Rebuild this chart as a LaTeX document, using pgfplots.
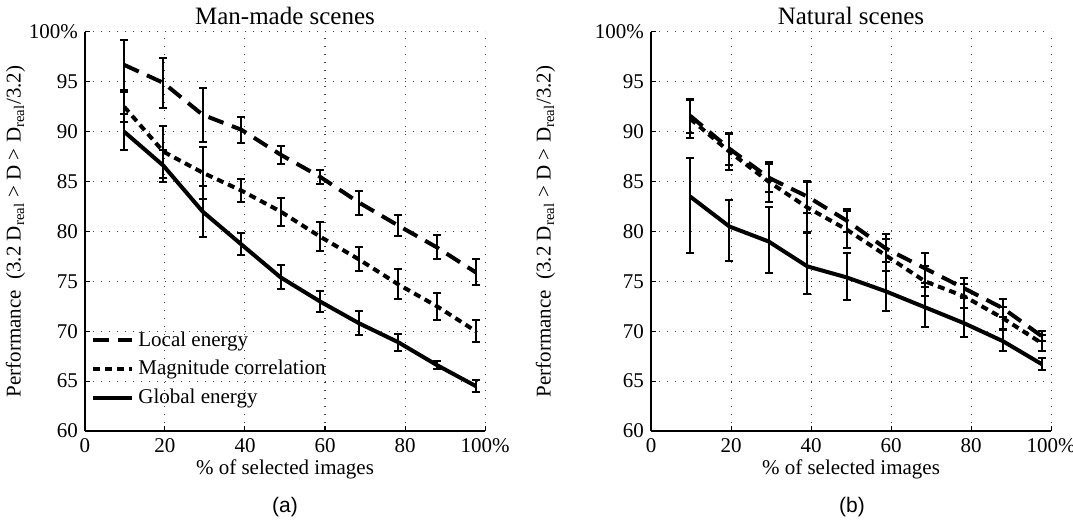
\documentclass[border=0pt]{standalone}
\usepackage{fontspec}
\setmainfont{Liberation Serif}
\newfontfamily\sansf{Liberation Sans}
\usepackage{pgfplots}
\usepackage{pgfplotstable}
\pgfplotsset{compat=1.18}

\pgfplotstableread{
x y e
9.8 96.7 2.5
19.6 94.9 2.5
29.4 91.7 2.7
39.1 90.2 1.3
48.9 87.7 0.9
58.7 85.5 0.7
68.5 82.9 1.2
78.3 80.6 1.1
88.0 78.4 1.2
97.7 75.9 1.3
}\LocalA
\pgfplotstableread{
x y e
9.8 92.5 1.5
19.6 88.0 2.6
29.4 85.9 2.6
39.1 84.1 1.15
48.9 82.0 1.4
58.7 79.5 1.45
68.5 77.2 1.2
78.3 74.7 1.5
88.0 72.5 1.35
97.7 70.0 1.1
}\MagA
\pgfplotstableread{
x y e
9.8 90.0 1.8
19.6 86.6 1.6
29.4 82.0 2.6
39.1 78.7 1.1
48.9 75.4 1.2
58.7 73.0 1.05
68.5 70.8 1.2
78.3 68.9 0.85
88.0 66.6 0.4
97.7 64.5 0.6
}\GlobA
\pgfplotstableread{
x y e
9.8 91.6 1.7
19.6 88.3 1.6
29.4 85.4 1.4
39.1 83.5 1.6
48.9 81.1 1.2
58.7 78.3 1.4
68.5 76.3 1.5
78.3 74.3 1.0
88.0 72.3 0.9
97.7 69.5 0.5
}\LocalB
\pgfplotstableread{
x y e
9.8 91.3 1.9
19.6 88.0 1.8
29.4 85.0 2.0
39.1 82.4 2.6
48.9 80.2 1.9
58.7 77.6 1.6
68.5 75.0 1.5
78.3 73.5 1.2
88.0 71.3 1.1
97.7 68.8 0.8
}\MagB
\pgfplotstableread{
x y ep em
9.8 83.5 3.9 5.7
19.6 80.5 2.7 3.5
29.4 79.0 3.5 3.2
39.1 76.5 3.4 2.8
48.9 75.4 2.4 2.3
58.7 74.0 2.0 2.0
68.5 72.4 2.0 2.0
78.3 70.8 1.5 1.4
88.0 69.0 1.1 1.0
97.7 66.7 0.6 0.6
}\GlobB

\pgfplotsset{
  myax/.style={
    scale only axis, width=200pt, height=199.5pt,
    xmin=0, xmax=100, ymin=60, ymax=100,
    xtick={0,20,40,60,80,100}, xticklabels={0,20,40,60,80,100\%},
    ytick={60,65,70,75,80,85,90,95,100},
    yticklabels={60,65,70,75,80,85,90,95,100\%},
    axis x line=bottom, axis y line=left,
    axis line style={-, line width=0.6pt},
    tick align=inside, major tick length=2.5pt,
    tick style={black, line width=0.5pt},
    grid=major,
    major grid style={black!75, line width=0.5pt, dash pattern=on 0.6pt off 3.4pt},
    /pgf/number format/assume math mode=true,
    tick label style={font=\fontsize{10.5}{12}\selectfont},
    label style={font=\fontsize{10.5}{12}\selectfont},
    title style={font=\fontsize{12.5}{14}\selectfont, yshift=-6pt},
    xlabel={\% of selected images},
    xlabel style={yshift=3pt},
    ylabel={Performance\ \ (3.2 D\textsubscript{real} > D > D\textsubscript{real}/3.2)},
    clip=false,
    legend image code/.code={\draw[#1] (0pt,0pt) -- (19.5pt,0pt);},
  },
  eb/.style={
    error bars/.cd, y dir=both, y explicit,
    error bar style={line width=1pt, solid, black},
    error mark options={rotate=90, mark size=2pt, line width=1pt, solid, black},
  },
  loc/.style={black, line width=2pt, dash pattern=on 8pt off 4.5pt},
  mag/.style={black, line width=2pt, dash pattern=on 3.5pt off 2.5pt},
  glob/.style={black, line width=2pt, solid},
}

\begin{document}
\begin{tikzpicture}
\path[use as bounding box] (0,0) rectangle (536.5pt,264.5pt);
\begin{axis}[myax, at={(42.5pt,49pt)}, anchor=south west,
  title={Man-made scenes},
  ylabel style={yshift=-5pt},
  legend style={at={(0.0,0.27)}, anchor=north west, draw=none, fill=none,
    font=\fontsize{10.5}{12}\selectfont, row sep=1.5pt, legend cell align=left}]
\addplot[loc, eb] table[x=x, y=y, y error=e] {\LocalA};
\addlegendentry{Local energy}
\addplot[mag, eb] table[x=x, y=y, y error=e] {\MagA};
\addlegendentry{Magnitude correlation}
\addplot[glob, eb] table[x=x, y=y, y error=e] {\GlobA};
\addlegendentry{Global energy}
\end{axis}
\begin{axis}[myax, at={(325.5pt,49pt)}, anchor=south west,
  title={Natural scenes},
  ylabel style={yshift=13pt}]
\addplot[loc, eb] table[x=x, y=y, y error=e] {\LocalB};
\addplot[mag, eb] table[x=x, y=y, y error=e] {\MagB};
\addplot[glob, eb] table[x=x, y=y, y error plus=ep, y error minus=em] {\GlobB};
\end{axis}
\node[font=\sansf\fontsize{10.5}{12}\selectfont] at (142.5pt,11pt) {(a)};
\node[font=\sansf\fontsize{10.5}{12}\selectfont] at (426pt,11pt) {(b)};
\end{tikzpicture}
\end{document}
